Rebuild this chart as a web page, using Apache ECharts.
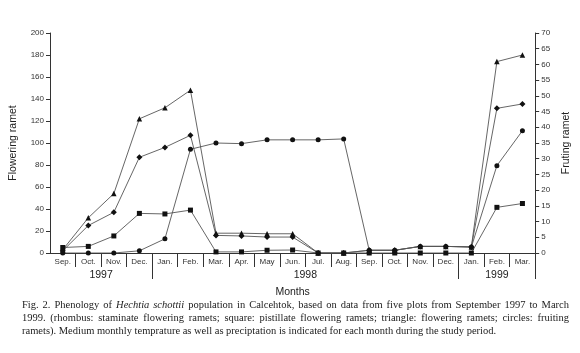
<!DOCTYPE html>
<html>
<head>
<meta charset="utf-8">
<script src="https://cdn.jsdelivr.net/npm/echarts@6/dist/echarts.min.js"></script>
<style>
  html, body { margin: 0; padding: 0; background: #fff; }
  #wrap { position: relative; width: 580px; height: 353px; }
  #chart { position: absolute; left: 0; top: 0; width: 580px; height: 353px; }
  #caption {
    position: absolute; left: 22px; top: 298px; width: 547px;
    font-family: "Liberation Serif", "DejaVu Serif", serif;
    font-size: 10.5px; line-height: 13px; color: #222;
  }
  #caption div { text-align: justify; text-align-last: justify; white-space: nowrap; }
  #caption div.last { text-align-last: left; }
</style>
</head>
<body>
<div id="wrap">
  <div id="chart"></div>
  <div id="caption">
    <div>Fig. 2. Phenology of <i>Hechtia schottii</i> population in Calcehtok, based on data from five plots from September 1997 to March</div>
    <div>1999. (rhombus: staminate flowering ramets; square: pistillate flowering ramets; triangle: flowering ramets; circles: fruiting</div>
    <div class="last">ramets). Medium monthly temprature as well as preciptation is indicated for each month during the study period.</div>
  </div>
</div>
<script>
// phenology chart — flowering ramets (left axis) + fruiting ramets (right axis)

const MONTHS = ["Sep.", "Oct.", "Nov.", "Dec.", "Jan.", "Feb.", "Mar.", "Apr.", "May", "Jun.",
                "Jul.", "Aug.", "Sep.", "Oct.", "Nov.", "Dec.", "Jan.", "Feb.", "Mar."];
const YEARS = ["1997", "1998", "1999"];
const YEAR_MID = [2, 10, 17.5];        // label centre, in month units
const YEAR_BREAK = [4, 16, 19];        // separator positions

// flowering ramets (left axis)
const TRIANGLE = [3, 32, 54, 122, 132, 148, 18, 18, 17.5, 17.5, 0, 0, 2.5, 2.5, 6, 6, 5.5, 174, 180];
const RHOMBUS  = [2, 25, 37, 87, 96, 107, 16, 15.5, 14.5, 14.5, 0, 0, 2.5, 2.5, 6, 6, 5.5, 131.5, 135.5];
const SQUARE   = [5, 6, 15.5, 36, 35.5, 39, 1, 1, 2.5, 2.7, 0, 0, 0, 0, 0, 0, 0, 41.5, 45];
// fruiting ramets (right axis)
const CIRCLE   = [0, 0, 0, 0.7, 4.5, 33, 35, 34.8, 36, 36, 36, 36.3, 0.85, 0.85, 2.1, 2.1, 1.9, 27.8, 38.9];

const FONT = "Liberation Sans";
const AX = "#333";
const LINE = "#555";

const chart = echarts.init(document.getElementById("chart"), null, { renderer: "canvas" });

function mkSeries(name, data, symbol, size, yIdx) {
  return {
    name, type: "line", data, xAxisIndex: 0, yAxisIndex: yIdx,
    symbol, symbolSize: size, showSymbol: true,
    itemStyle: { color: "#111" },
    lineStyle: { color: LINE, width: 0.9 },
    emphasis: { disabled: true },
  };
}

const yBase = {
  type: "value",
  axisLine: { show: true, lineStyle: { color: AX, width: 1 } },
  axisTick: { show: true, length: 4, lineStyle: { color: AX } },
  axisLabel: { color: AX, fontSize: 8, fontFamily: FONT, margin: 6 },
  splitLine: { show: false },
  nameLocation: "middle", nameRotate: 90,
  nameTextStyle: { color: "#222", fontSize: 10.5, fontFamily: FONT },
};

chart.setOption({
  backgroundColor: "#fff", animation: false,
  grid: { left: 49, right: 41, top: 33, bottom: 100 },
  xAxis: [
    {
      type: "category", data: MONTHS, boundaryGap: true, position: "bottom",
      axisLine: { show: true, lineStyle: { color: AX, width: 1 } },
      axisTick: { show: true, interval: i => i > 0, length: 14, lineStyle: { color: AX } },
      axisLabel: { interval: 0, color: AX, fontSize: 8, fontFamily: FONT, margin: 5 },
      splitLine: { show: false },
      name: "Months", nameLocation: "middle", nameGap: 34,
      nameTextStyle: { color: "#222", fontSize: 10.5, fontFamily: FONT },
    },
    {
      type: "value", min: 0, max: MONTHS.length, position: "bottom",
      axisLine: { show: false },
      axisTick: { show: true, customValues: YEAR_BREAK, length: 26, lineStyle: { color: AX } },
      axisLabel: {
        customValues: YEAR_MID, color: "#222", fontSize: 10.5, fontFamily: FONT, margin: 17,
        formatter: v => YEARS[YEAR_MID.indexOf(v)] ?? "",
      },
      splitLine: { show: false },
    },
  ],
  yAxis: [
    { ...yBase, position: "left", min: 0, max: 200, interval: 20,
      name: "Flowering ramet", nameGap: 31 },
    { ...yBase, position: "right", min: 0, max: 70, interval: 5,
      name: "Fruting ramet", nameGap: 25 },
  ],
  series: [
    mkSeries("triangle", TRIANGLE, "triangle", 5.5, 0),
    mkSeries("rhombus", RHOMBUS, "diamond", 6, 0),
    mkSeries("square", SQUARE, "rect", 5, 0),
    mkSeries("circle", CIRCLE, "circle", 5, 1),
  ],
});
</script>
</body>
</html>
